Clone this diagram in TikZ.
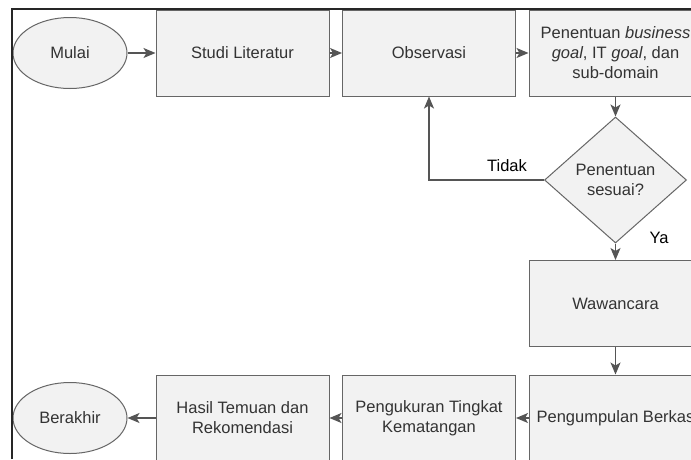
\documentclass[tikz,border=0pt]{standalone}
\usepackage{fontspec}
\setmainfont{Liberation Sans}
\usetikzlibrary{shapes.geometric,arrows.meta}
\definecolor{boxfill}{HTML}{F2F2F2}
\definecolor{boxline}{HTML}{666666}
\definecolor{txt}{HTML}{333333}
\definecolor{arr}{HTML}{555555}
\tikzset{
  base/.style={draw=boxline, fill=boxfill, line width=1pt, text=txt, font=\fontsize{16.5}{20}\selectfont, align=center, inner sep=0pt},
  proc/.style={base, rectangle, minimum width=173pt, minimum height=86pt},
  term/.style={base, ellipse, minimum width=114pt, minimum height=71pt},
  decis/.style={base, diamond, minimum width=142pt, minimum height=126pt},
  conn/.style={draw=arr, line width=1.3pt, -{Stealth[length=12pt,width=10pt,inset=3pt]}},
  lbl/.style={text=black, font=\fontsize{16.5}{20}\selectfont, inner sep=0pt}
}
\begin{document}
\begin{tikzpicture}[x=1pt,y=-1pt]
\useasboundingbox (0,0) rectangle (691,459);
\clip (0,0) rectangle (691,459);
\fill[white] (0,0) rectangle (691,459);
\node[term] (mulai) at (70,53) {Mulai};
\node[proc] (studi) at (242.5,53) {Studi Literatur};
\node[proc] (obs) at (429,53) {Observasi};
\node[proc] (pen) at (615.5,53) {Penentuan \textit{business}\\\textit{goal}, IT \textit{goal}, dan\\sub-domain};
\node[decis] (dec) at (615.5,180) {Penentuan\\sesuai?};
\node[proc] (waw) at (615.5,303.5) {Wawancara};
\node[proc] (peng) at (615.5,418) {Pengumpulan Berkas};
\node[proc] (ukur) at (429,418) {Pengukuran Tingkat\\Kematangan};
\node[proc] (hasil) at (242.5,418) {Hasil Temuan dan\\Rekomendasi};
\node[term] (akhir) at (70,418) {Berakhir};
\draw[conn] (mulai) -- (studi);
\draw[conn] (studi) -- (obs);
\draw[conn] (obs) -- (pen);
\draw[conn] (pen) -- (dec);
\draw[conn] (dec.west) -| (obs.south);
\draw[conn] (dec) -- (waw);
\draw[conn] (waw) -- (peng);
\draw[conn] (peng) -- (ukur);
\draw[conn] (ukur) -- (hasil);
\draw[conn] (hasil) -- (akhir);
\node[lbl] (tidak) at (507,166) {Tidak};
\node[lbl] (ya) at (659,238) {Ya};
\coordinate (fa) at (12,459);
\coordinate (fb) at (12,9);
\coordinate (fc) at (691,9);
\draw[line width=1.5pt, black!85] (fa) -- (fb) -- (fc);
\end{tikzpicture}
\end{document}
